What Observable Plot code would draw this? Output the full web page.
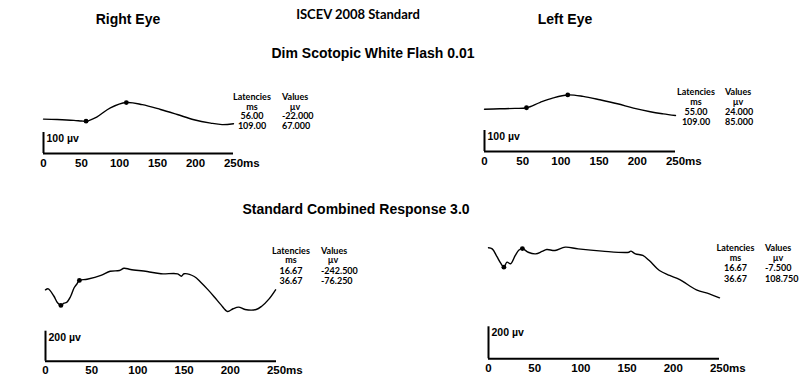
<!DOCTYPE html>
<html>
<head>
<meta charset="utf-8">
<script src="https://cdn.jsdelivr.net/npm/d3@7"></script>
<script src="https://cdn.jsdelivr.net/npm/@observablehq/plot@0.6"></script>
<style>
  html, body { margin: 0; padding: 0; background: #fff; }
  #root { position: relative; width: 800px; height: 391px; overflow: hidden; background: #fff; color: #000; }
  .t { position: absolute; white-space: nowrap; line-height: 1; transform: translate(-50%, -50%); }
  .arial { font-family: "Liberation Sans", Arial, sans-serif; font-weight: bold; }
  .gill { font-family: "Lato", "Noto Sans", sans-serif; font-weight: bold; }
  .tab { font-family: "Lato", "Noto Sans", sans-serif; font-weight: bold; font-size: 9px; position: absolute; white-space: nowrap; line-height: 1; }
</style>
</head>
<body>
<div id="root"></div>
<script>
// ---------- data ----------
const xTicks = [0, 50, 100, 150, 200, 250];

// Right eye, Dim Scotopic White Flash 0.01 (ms, µV)
const reDimT = [0, 18, 40, 50, 56, 70, 88, 109, 130, 154, 176, 198, 220, 235, 250];
const reDimV = [-12, -14, -18, -21, -22, -2, 42, 67, 57, 34, 10, -15, -31, -38, -34];
const reDimLat = [56.00, 109.00];
const reDimVal = [-22.000, 67.000];

// Left eye, Dim Scotopic White Flash 0.01
const leDimT = [0, 20, 40, 55, 73, 90, 109, 129, 151, 174, 195, 217, 234, 250];
const leDimV = [17, 19, 21, 24, 50, 71, 85, 78, 62, 43, 22, 5, -5, -13];
const leDimLat = [55.00, 109.00];
const leDimVal = [24.000, 85.000];

// Right eye, Standard Combined Response 3.0
const reCombT = [0, 3, 9, 13, 16.67, 20, 23, 27, 31, 34, 36.67, 45, 60, 70, 80, 85, 92, 110, 125, 143, 147, 150, 161, 168, 176, 183, 190, 197, 203, 209, 216, 228, 234, 242, 249];
const reCombV = [-139, -132, -180, -225, -242.5, -228, -222, -185, -125, -100, -76.25, -68, -43, -15, -10, 5, -3, -17, -32, -32, -48, -32, -50, -88, -139, -188, -239, -283, -265, -254, -270, -270, -248, -199, -139];
const reCombLat = [16.67, 36.67];
const reCombVal = [-242.500, -76.250];

// Left eye, Standard Combined Response 3.0
const leCombT = [0, 4, 9, 13, 16.67, 20, 24, 29, 33, 36.67, 43, 51, 58, 63, 72, 83, 97, 123, 152, 154, 159, 167, 174, 185, 196, 207, 225, 239, 250];
const leCombV = [114, 107, 60, 20, -7.5, 24, 14, 66, 100, 108.75, 86, 76, 91, 103, 97, 118, 107, 93, 86, 93, 76, 66, 34, -28, -59, -85, -149, -174, -199];
const leCombLat = [16.67, 36.67];
const leCombVal = [-7.500, 108.750];

const latHead = ["Latencies", "ms"];
const valHead = ["Values", "µv"];

// ---------- layout helpers ----------
const root = document.getElementById("root");

function addText(txt, cls, x, y, size) {
  const d = document.createElement("div");
  d.className = "t " + cls;
  d.style.left = x + "px";
  d.style.top = y + "px";
  d.style.fontSize = size + "px";
  d.textContent = txt;
  root.appendChild(d);
}

function addTab(txt, x, y, align) {
  const d = document.createElement("div");
  d.className = "tab";
  d.style.left = x + "px";
  d.style.top = y + "px";
  d.style.transform = align === "center" ? "translate(-50%,-50%)" : "translate(0,-50%)";
  d.textContent = txt;
  root.appendChild(d);
}

function table(lat, val, c1, c2, rows, muX) {
  addTab(latHead[0], c1, rows[0], "center");
  addTab(latHead[1], c1, rows[1], "center");
  addTab(valHead[0], c2, rows[0], "left");
  addTab(valHead[1], muX, rows[1], "center");
  lat.forEach((d, i) => addTab(d.toFixed(2), c1, rows[2 + i], "center"));
  val.forEach((d, i) => addTab(d.toFixed(3), c2, rows[2 + i], "left"));
}

function panel(cfg) {
  const {left, top, width, height, x0, x250, basePx, zeroPx, k, bar, t, v, lat, val} = cfg;
  const marginLeft = x0 - left;
  const marginRight = left + width - x250;
  const marginBottom = top + height - basePx;
  const marginTop = 8;
  const yBase = -(basePx - zeroPx) / k;
  const plotH = height - marginTop - marginBottom;
  const yMax = yBase + plotH / k;
  const data = t.map((d, i) => ({t: d, v: v[i]}));
  const pts = lat.map((d, i) => ({t: d, v: val[i]}));
  const font = "Liberation Sans, Arial, sans-serif";
  const svg = Plot.plot({
    width, height, marginLeft, marginRight, marginTop, marginBottom,
    x: {domain: [0, 250]},
    y: {domain: [yBase, yMax], axis: null},
    style: {background: "none", fontFamily: font, overflow: "visible", color: "#000"},
    marks: [
      Plot.ruleY([yBase], {strokeWidth: 2, stroke: "#000"}),
      Plot.ruleX([0], {y1: yBase, y2: yBase + bar, strokeWidth: 2, stroke: "#000"}),
      Plot.text([bar + " µv"], {x: () => 0, y: () => yBase + bar, text: d => d, textAnchor: "start", lineAnchor: "middle", dx: 3, dy: 6, fontSize: 10.5, fontWeight: "bold", fill: "#000"}),
      Plot.axisX({ticks: xTicks, tickSize: 0, tickPadding: 5, label: null, fontSize: 11.5, fontWeight: "bold", fill: "#000"}),
      Plot.text(["ms"], {x: () => 250, y: () => yBase, text: d => d, textAnchor: "start", lineAnchor: "top", dx: 9.6, dy: 5, fontSize: 11.5, fontWeight: "bold", fill: "#000"}),
      Plot.line(data, {x: "t", y: "v", curve: "catmull-rom", stroke: "#000", strokeWidth: 1.4}),
      Plot.dot(pts, {x: "t", y: "v", r: 2.4, fill: "#000", stroke: "none"})
    ]
  });
  svg.style.position = "absolute";
  svg.style.left = left + "px";
  svg.style.top = top + "px";
  root.appendChild(svg);
}

// ---------- titles ----------
addText("Right Eye", "arial", 128, 18.5, 14);
addText("ISCEV 2008 Standard", "gill", 358, 14, 13);
addText("Left Eye", "arial", 565, 19, 14);
addText("Dim Scotopic White Flash 0.01", "arial", 373, 53, 14);
addText("Standard Combined Response 3.0", "arial", 356, 209, 14);

// ---------- panels ----------
panel({left: 0, top: 62, width: 400, height: 113, x0: 43, x250: 233, basePx: 153, zeroPx: 116.1, k: 0.21, bar: 100,
       t: reDimT, v: reDimV, lat: reDimLat, val: reDimVal});
panel({left: 400, top: 62, width: 400, height: 113, x0: 484, x250: 675, basePx: 151, zeroPx: 112.3, k: 0.21, bar: 100,
       t: leDimT, v: leDimV, lat: leDimLat, val: leDimVal});
panel({left: 0, top: 220, width: 400, height: 171, x0: 45, x250: 276, basePx: 360.7, zeroPx: 268.5, k: 0.15, bar: 200,
       t: reCombT, v: reCombV, lat: reCombLat, val: reCombVal});
panel({left: 400, top: 220, width: 400, height: 171, x0: 488, x250: 719, basePx: 358.3, zeroPx: 265.5, k: 0.16, bar: 200,
       t: leCombT, v: leCombV, lat: leCombLat, val: leCombVal});

// ---------- latency tables ----------
table(reDimLat, reDimVal, 252, 282, [96, 105.5, 115, 125], 295);
table(leDimLat, leDimVal, 696, 725, [91, 100.5, 110.5, 120.5], 738);
table(reCombLat, reCombVal, 291, 321, [249.5, 259, 269.5, 280.3], 333);
table(leCombLat, leCombVal, 735.5, 765, [247, 256.5, 266.5, 278.3], 778);
</script>
</body>
</html>
